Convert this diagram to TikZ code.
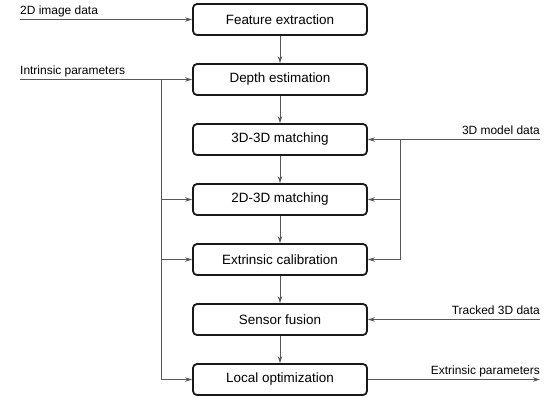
\documentclass[tikz,border=0pt]{standalone}
\usepackage{fontspec}
\setmainfont{Liberation Sans}
\usetikzlibrary{arrows.meta}
\begin{document}
\begin{tikzpicture}[x=1bp,y=-1bp,
  proc/.style={draw=black!90, line width=1.8bp, rounded corners=4bp,
    minimum width=174bp, minimum height=31bp, inner sep=0pt,
    font=\fontsize{13.5}{16}\selectfont},
  gline/.style={draw=black!65, line width=0.9bp},
  conn/.style={gline, -{Stealth[length=7bp,width=4.5bp]}},
  lbl/.style={font=\fontsize{12}{14}\selectfont, inner sep=0pt}]
\useasboundingbox (0,0) rectangle (560,403);
% process boxes
\node[proc] (fe) at (280,19.5) {Feature extraction};
\node[proc] (de) at (280,79.5) {Depth estimation};
\node[proc] (m33) at (280,139.5) {3D-3D matching};
\node[proc] (m23) at (280,199.5) {2D-3D matching};
\node[proc] (ec) at (280,259.5) {Extrinsic calibration};
\node[proc] (sf) at (280,319.5) {Sensor fusion};
\node[proc] (lo) at (280,379.5) {Local optimization};
% main flow
\draw[conn] (fe) -- (de);
\draw[conn] (de) -- (m33);
\draw[conn] (m33) -- (m23);
\draw[conn] (m23) -- (ec);
\draw[conn] (ec) -- (sf);
\draw[conn] (sf) -- (lo);
% 2D image data
\coordinate (in2d) at (20,19.5);
\draw[conn] (in2d) -- (fe.west);
\node[lbl, anchor=base west] (l2d) at (20,14) {2D image data};
% intrinsic parameters
\coordinate (inI) at (20,79.5);
\coordinate (bI) at (161,79.5);
\coordinate (bI1) at (161,199.5);
\coordinate (bI2) at (161,259.5);
\coordinate (bI3) at (161,379.5);
\draw[conn] (inI) -- (de.west);
\node[lbl, anchor=base west] (lI) at (20,74) {Intrinsic parameters};
\draw[gline] (bI) -- (bI3);
\draw[conn] (bI1) -- (m23.west);
\draw[conn] (bI2) -- (ec.west);
\draw[conn] (bI3) -- (lo.west);
% 3D model data
\coordinate (in3d) at (540,139.5);
\coordinate (bM) at (400,139.5);
\coordinate (bM1) at (400,199.5);
\coordinate (bM2) at (400,259.5);
\draw[conn] (in3d) -- (m33.east);
\node[lbl, anchor=base east] (l3d) at (540,134) {3D model data};
\draw[gline] (bM) -- (bM2);
\draw[conn] (bM1) -- (m23.east);
\draw[conn] (bM2) -- (ec.east);
% tracked 3D data
\coordinate (inT) at (540,319.5);
\draw[conn] (inT) -- (sf.east);
\node[lbl, anchor=base east] (lT) at (540,314) {Tracked 3D data};
% extrinsic parameters
\coordinate (outE) at (540,379.5);
\draw[conn] (lo.east) -- (outE);
\node[lbl, anchor=base east] (lE) at (540,374) {Extrinsic parameters};
\end{tikzpicture}
\end{document}
